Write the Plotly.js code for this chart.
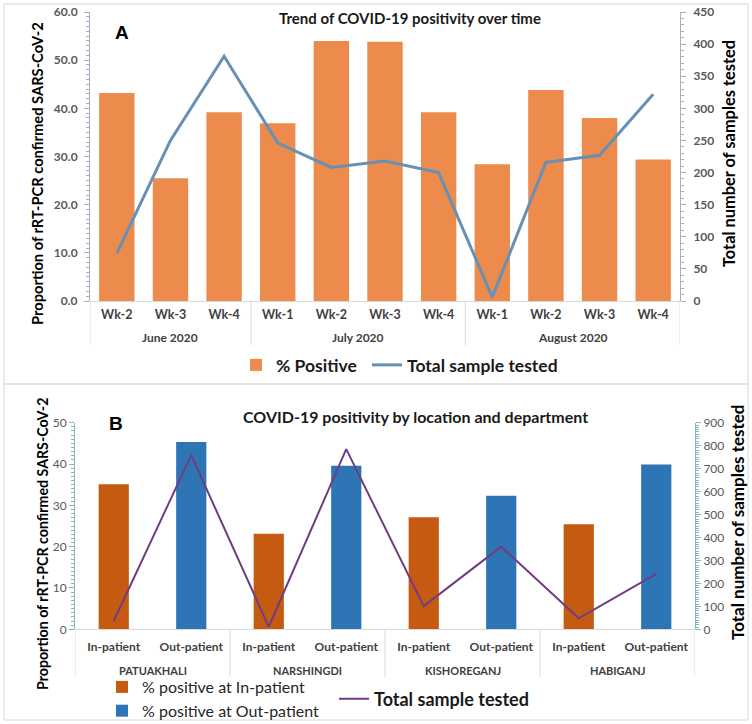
<!DOCTYPE html>
<html>
<head>
<meta charset="utf-8">
<script src="https://cdn.plot.ly/plotly-3.0.1.min.js"></script>
<style>
html,body{margin:0;padding:0;background:#fff;}
#chart{width:752px;height:724px;}
</style>
</head>
<body>
<div id="chart"></div>
<script>
// ---------- Panel A data ----------
const weekLabels = ['Wk-2','Wk-3','Wk-4','Wk-1','Wk-2','Wk-3','Wk-4','Wk-1','Wk-2','Wk-3','Wk-4'];
const weekMonths = ['June 2020','June 2020','June 2020','July 2020','July 2020','July 2020','July 2020','August 2020','August 2020','August 2020','August 2020'];
const monthLabels = ['June 2020','July 2020','August 2020'];
const pctPositive = [43.2,25.5,39.2,36.9,54.0,53.8,39.2,28.4,43.8,38.0,29.4];
const totalTestedA = [74,250,381,246,208,218,200,6,216,227,322];

// ---------- Panel B data ----------
const locations = ['PATUAKHALI','NARSHINGDI','KISHOREGANJ','HABIGANJ'];
const departments = ['In-patient','Out-patient'];
const pctInPatient = [35.1,23.1,27.1,25.4];
const pctOutPatient = [45.3,39.6,32.3,39.9];
const totalTestedB = [36,759,11,785,101,360,48,241];

// ---------- geometry helpers (pixel -> paper) ----------
const W = 752, H = 724;
const px = v => v / W;
const py = v => 1 - v / H;

const FONT = 'Lato, "Open Sans", sans-serif';

const xA = weekLabels.map((_, i) => i);
const xB = totalTestedB.map((_, i) => i);
const xIn = locations.map((_, i) => i * departments.length);
const xOut = locations.map((_, i) => i * departments.length + 1);
const tickB = locations.flatMap(() => departments);

const data = [
  {type:'bar', x:xA, y:pctPositive, name:'% Positive', marker:{color:'#ED8B4C'},
   width:0.66, xaxis:'x', yaxis:'y', legend:'legend', legendwidth:86},
  {type:'scatter', mode:'lines', x:xA, y:totalTestedA, name:'Total sample tested',
   line:{color:'#6790B5', width:3}, xaxis:'x', yaxis:'y2', legend:'legend'},
  {type:'bar', x:xIn, y:pctInPatient, name:'% positive at In-patient', marker:{color:'#C55A11'},
   width:0.39, xaxis:'x2', yaxis:'y3', legend:'legend2'},
  {type:'bar', x:xOut, y:pctOutPatient, name:'% positive at Out-patient', marker:{color:'#2E75B6'},
   width:0.39, xaxis:'x2', yaxis:'y3', legend:'legend2'},
  {type:'scatter', mode:'lines', x:xB, y:totalTestedB, name:'Total sample tested',
   line:{color:'#713D82', width:2}, xaxis:'x2', yaxis:'y4', legend:'legend3'}
];

// group labels & dividers
function groups(list) {
  const out = [];
  list.forEach((g, i) => {
    const last = out[out.length - 1];
    if (last && last.name === g) last.end = i; else out.push({name:g, start:i, end:i});
  });
  return out;
}
const groupsA = groups(weekMonths);
const groupsB = groups(locations.flatMap(l => departments.map(() => l)));

const annotations = [];
const shapes = [];
const C = {showarrow:false, xanchor:'center', yanchor:'middle'};

// panel borders
shapes.push({type:'rect', xref:'paper', yref:'paper', x0:px(4), x1:px(748), y0:py(384), y1:py(4),
  line:{color:'#D9D9D9', width:1}});
shapes.push({type:'rect', xref:'paper', yref:'paper', x0:px(4), x1:px(748), y0:py(720), y1:py(384),
  line:{color:'#D9D9D9', width:1}});

groupsA.forEach(g => {
  annotations.push(Object.assign({xref:'x', yref:'paper', x:(g.start + g.end) / 2, y:py(337), text:g.name,
    font:{family:FONT, size:12, color:'#404040', weight:'bold'}}, C));
  shapes.push({type:'line', xref:'x', yref:'paper', x0:g.start - 0.5, x1:g.start - 0.5,
    y0:py(301), y1:py(345), line:{color:'#D9D9D9', width:1}});
});
shapes.push({type:'line', xref:'x', yref:'paper', x0:weekLabels.length - 0.5, x1:weekLabels.length - 0.5,
  y0:py(301), y1:py(345), line:{color:'#D9D9D9', width:1}});

groupsB.forEach(g => {
  annotations.push(Object.assign({xref:'x2', yref:'paper', x:(g.start + g.end) / 2, y:py(670), text:g.name,
    font:{family:FONT, size:11, color:'#404040', weight:'bold'}}, C));
  shapes.push({type:'line', xref:'x2', yref:'paper', x0:g.start - 0.5, x1:g.start - 0.5,
    y0:py(629), y1:py(677), line:{color:'#D9D9D9', width:1}});
});
shapes.push({type:'line', xref:'x2', yref:'paper', x0:tickB.length - 0.5, x1:tickB.length - 0.5,
  y0:py(629), y1:py(677), line:{color:'#D9D9D9', width:1}});

// titles, panel letters, axis titles
const tf = s => ({family:FONT, size:s, color:'#000', weight:'bold'});
const letterFont = {family:'"Liberation Sans", Arial, sans-serif', size:19, color:'#000', weight:'bold'};
[
  {x:px(410), y:py(18), text:'Trend of COVID-19 positivity over time',
   font:{family:FONT, size:15, color:'#1a1a1a', weight:'bold'}},
  {x:px(122), y:py(33), text:'A', font:letterFont},
  {x:px(37), y:py(174), text:'Proportion of rRT-PCR confirmed SARS-CoV-2', textangle:-90, font:tf(14.7)},
  {x:px(728), y:py(154), text:'Total number of samples tested', textangle:-90, font:tf(16.4)},
  {x:px(415), y:py(417), text:'COVID-19 positivity by location and department',
   font:{family:FONT, size:16, color:'#1a1a1a', weight:'bold'}},
  {x:px(116), y:py(423), text:'B', font:letterFont},
  {x:px(42), y:py(544), text:'Proportion of rRT-PCR confirmed SARS-CoV-2', textangle:-90, font:tf(14.2)},
  {x:px(737), y:py(523), text:'Total number of samples tested', textangle:-90, font:tf(17)}
].forEach(a => annotations.push(Object.assign({xref:'paper', yref:'paper'}, C, a)));

const axLineA = '#A3B1C2';
const axLineB = '#86B7BA';
const tickFontA = {family:FONT, size:12, color:'#595959', weight:'bold'};
const tickFontB = {family:FONT, size:12, color:'#595959'};

const layout = {
  width:W, height:H,
  margin:{l:0, r:0, t:0, b:0, autoexpand:false},
  paper_bgcolor:'#fff', plot_bgcolor:'rgba(0,0,0,0)',
  showlegend:true,
  barmode:'overlay',
  xaxis:{domain:[px(90), px(680)], anchor:'y', range:[-0.5, weekLabels.length - 0.5],
    tickmode:'array', tickvals:xA, ticktext:weekLabels, ticks:'', ticklabelstandoff:2,
    showgrid:false, zeroline:false,
    showline:true, linecolor:'#D9D9D9', linewidth:1, tickfont:{family:FONT, size:12.5, color:'#404040', weight:'bold'}},
  yaxis:{domain:[py(301), py(12)], anchor:'x', range:[0, 60], dtick:10, tickformat:'.1f',
    showgrid:false, zeroline:false, showline:true, linecolor:axLineA, linewidth:1,
    ticks:'outside', ticklen:5, tickcolor:axLineA, tickfont:tickFontA, ticklabelstandoff:4,
    minor:{dtick:1, ticks:'outside', ticklen:3, tickcolor:axLineA}},
  yaxis2:{overlaying:'y', side:'right', anchor:'x', range:[0, 450], dtick:50,
    showgrid:false, zeroline:false, showline:true, linecolor:axLineA, linewidth:1,
    ticks:'outside', ticklen:5, tickcolor:axLineA, tickfont:tickFontA, ticklabelstandoff:5,
    minor:{dtick:10, ticks:'outside', ticklen:3, tickcolor:axLineA}},
  xaxis2:{domain:[px(75), px(695)], anchor:'y3', range:[-0.5, tickB.length - 0.5],
    tickmode:'array', tickvals:xB, ticktext:tickB, ticks:'', ticklabelstandoff:6,
    showgrid:false, zeroline:false,
    showline:true, linecolor:'#D9D9D9', linewidth:1, tickfont:{family:FONT, size:12, color:'#404040', weight:'bold'}},
  yaxis3:{domain:[py(629.3), py(422.7)], anchor:'x2', range:[0, 50], dtick:10,
    showgrid:false, zeroline:false, showline:true, linecolor:axLineB, linewidth:1,
    ticks:'outside', ticklen:5, tickcolor:axLineB, tickfont:tickFontB,
    minor:{dtick:1, ticks:'outside', ticklen:3, tickcolor:axLineB}},
  yaxis4:{overlaying:'y3', side:'right', anchor:'x2', range:[0, 900], dtick:100,
    showgrid:false, zeroline:false, showline:true, linecolor:axLineB, linewidth:1,
    ticks:'outside', ticklen:5, tickcolor:axLineB, tickfont:tickFontB,
    minor:{dtick:10, ticks:'outside', ticklen:3, tickcolor:axLineB}},
  legend:{x:px(236), y:py(365), xanchor:'left', yanchor:'middle', orientation:'h',
    bgcolor:'rgba(0,0,0,0)', font:{family:FONT, size:17.5, color:'#1a1a1a', weight:'bold'},
    traceorder:'normal', itemclick:false, itemdoubleclick:false, tracegroupgap:0},
  legend2:{x:px(102), y:py(699), xanchor:'left', yanchor:'middle', orientation:'v',
    bgcolor:'rgba(0,0,0,0)', font:{family:FONT, size:16, color:'#262626'},
    traceorder:'normal', itemclick:false, itemdoubleclick:false, tracegroupgap:0},
  legend3:{x:px(334), y:py(699), xanchor:'left', yanchor:'middle', orientation:'h',
    bgcolor:'rgba(0,0,0,0)', font:{family:FONT, size:18, color:'#1a1a1a', weight:'bold'},
    itemclick:false, itemdoubleclick:false},
  annotations:annotations,
  shapes:shapes
};

Plotly.newPlot('chart', data, layout, {staticPlot:true, displayModeBar:false});
</script>
</body>
</html>
